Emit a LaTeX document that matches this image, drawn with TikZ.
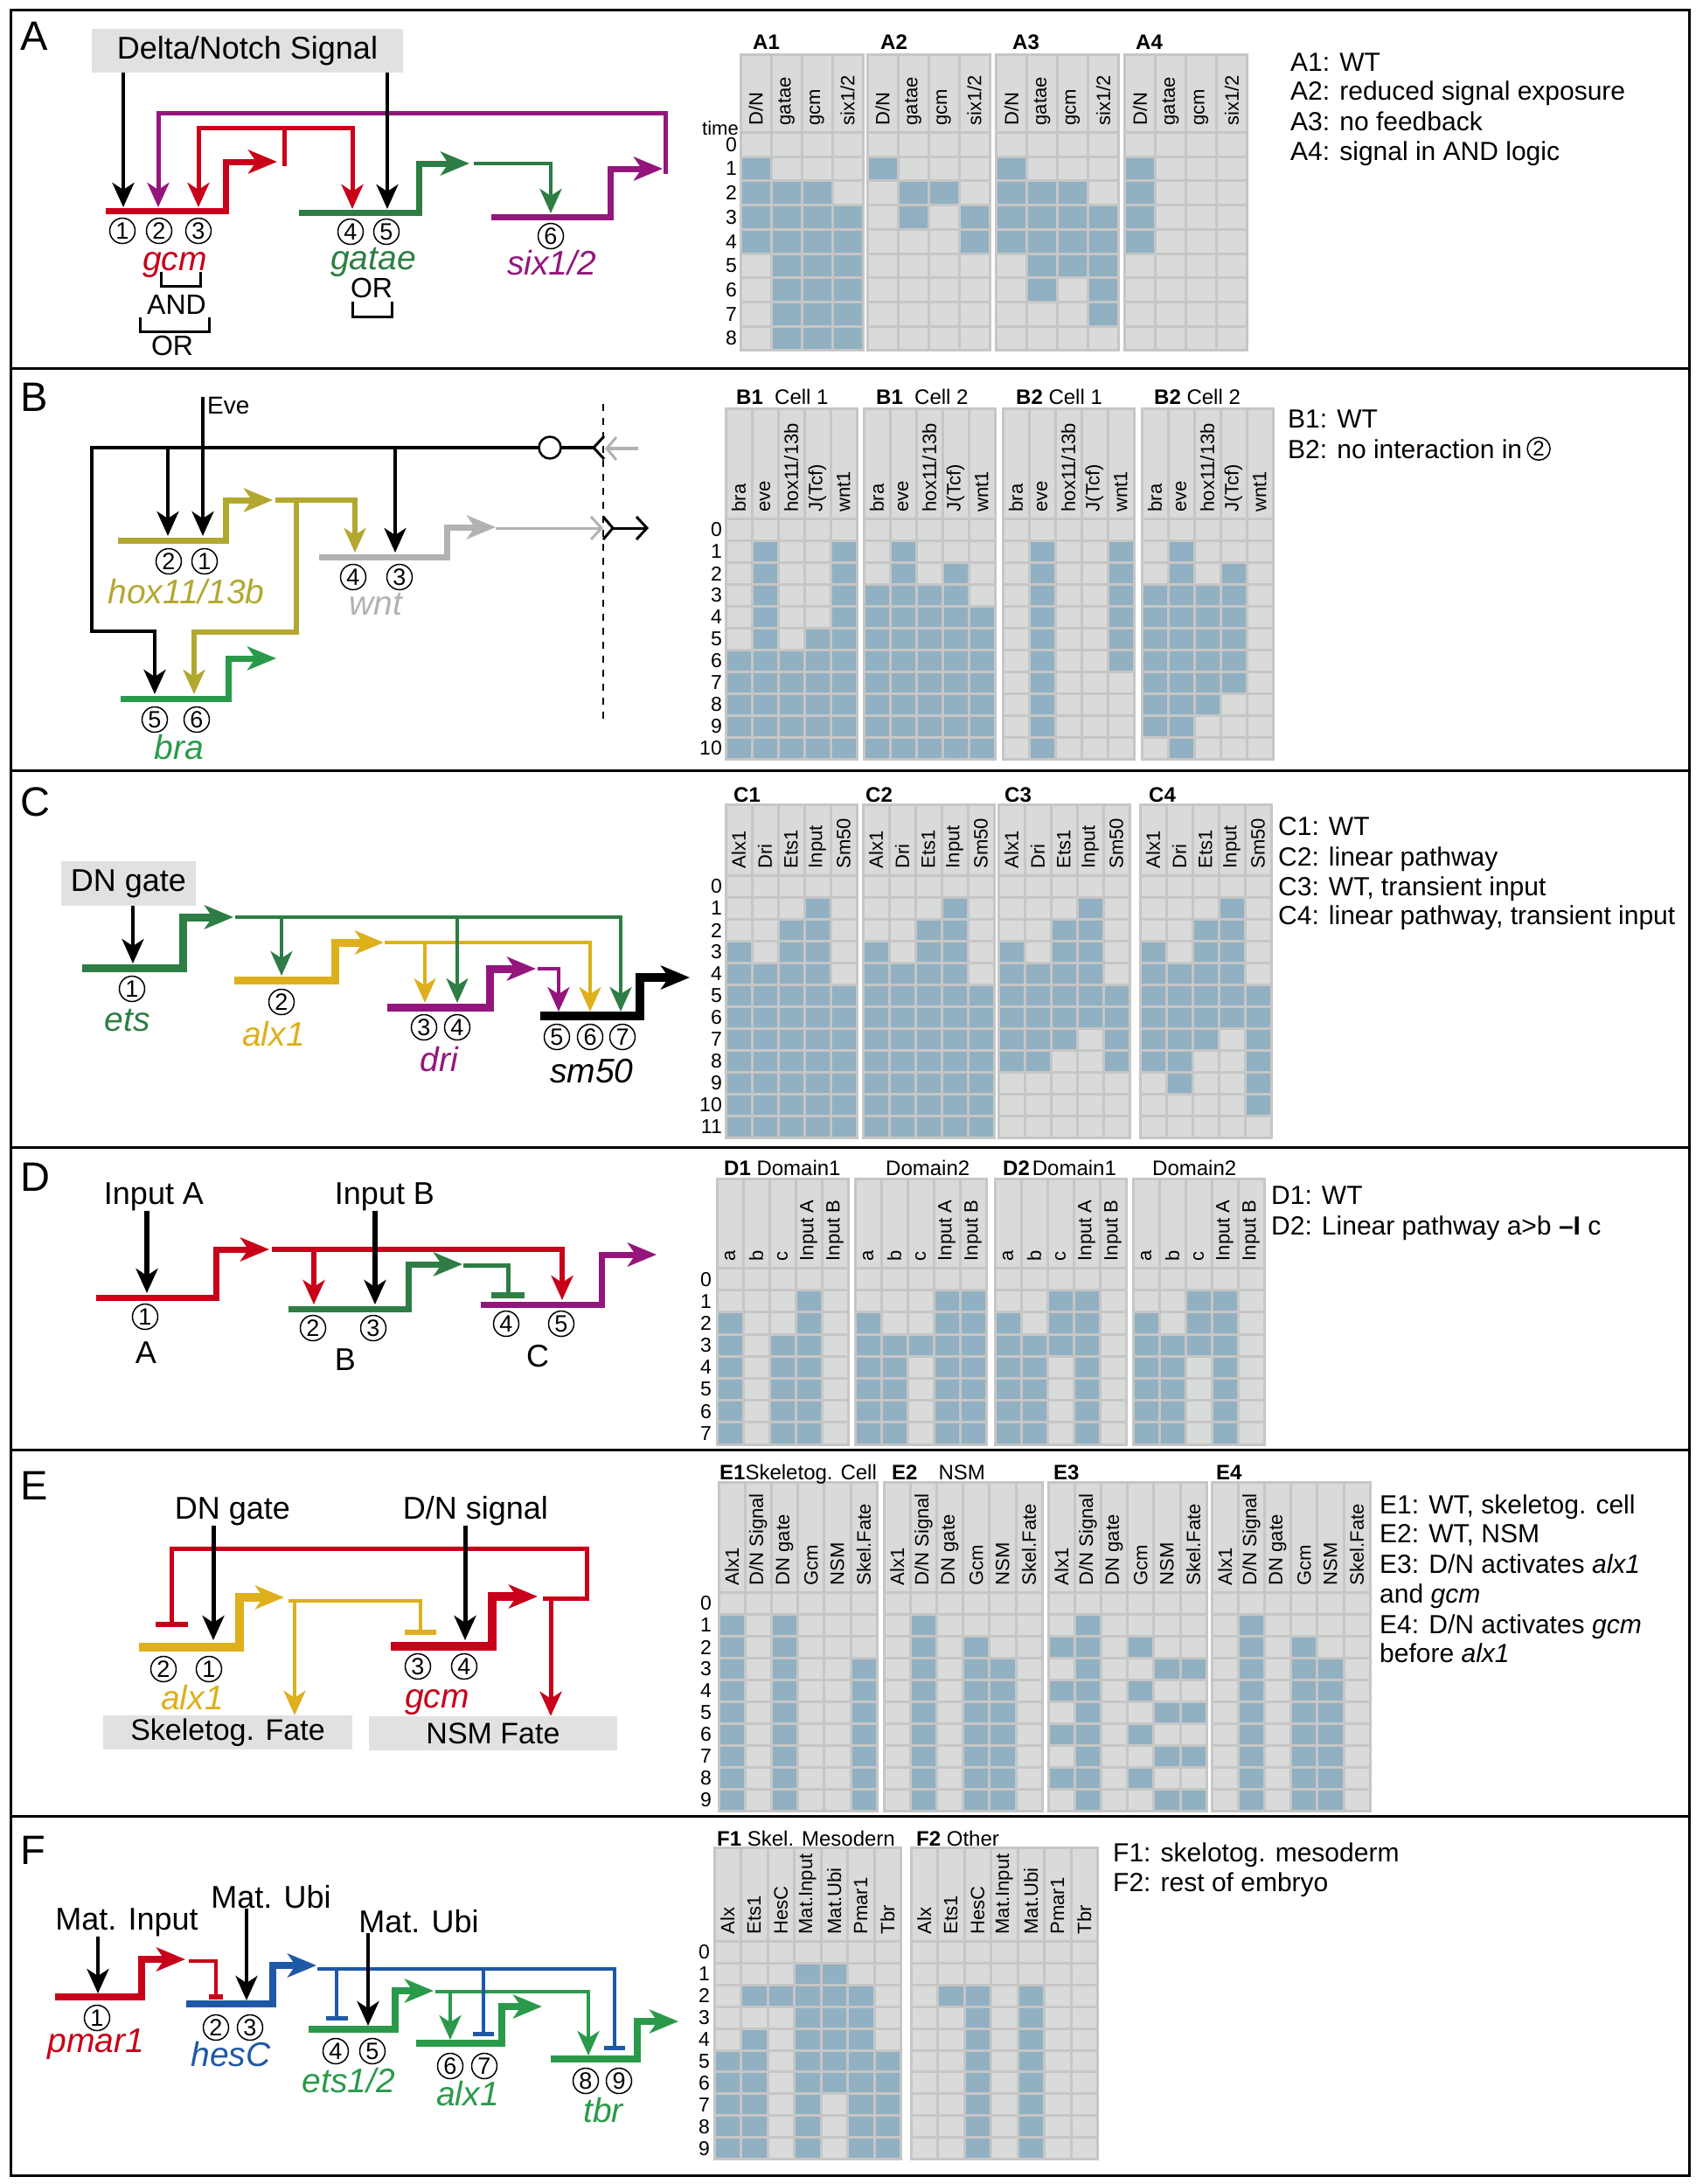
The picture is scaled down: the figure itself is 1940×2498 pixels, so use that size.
\documentclass[tikz,border=0pt]{standalone}
\usepackage{fontspec}
\setmainfont{Liberation Sans}
\usetikzlibrary{arrows.meta, calc}

\newcommand{\pxfont}[1]{\fontsize{#1}{#1}\selectfont}
\newcount\gridno

\definecolor{geneRed}{RGB}{200,0,25}
\definecolor{genePurple}{RGB}{148,22,124}
\definecolor{geneGreen}{RGB}{45,125,68}
\definecolor{geneOlive}{RGB}{178,168,48}
\definecolor{geneGray}{RGB}{178,178,178}
\definecolor{geneLime}{RGB}{42,154,74}
\definecolor{geneGold}{RGB}{221,176,28}
\definecolor{geneBlue}{RGB}{31,88,166}
\definecolor{boxgray}{RGB}{225,225,225}
\definecolor{cellgray}{RGB}{217,218,218}
\definecolor{gridgray}{RGB}{198,198,198}
\definecolor{cellblue}{RGB}{145,176,194}

\tikzstyle{promoter} = [line width=7pt, -{Stealth[length=33pt, width=27pt, inset=9pt]}]
\tikzstyle{inarrow} = [line width=4pt, -{Stealth[length=28pt, width=25pt, inset=8pt]}]
\tikzstyle{linkarrow} = [line width=5pt, -{Stealth[length=28pt, width=25pt, inset=8pt]}]
\tikzstyle{linkline} = [line width=5pt]
\tikzstyle{numcirc} = [circle, draw, line width=1.5pt, minimum size=29pt, inner sep=0pt, font=\pxfont{27}]
\tikzstyle{genelabel} = [anchor=base, inner sep=0pt, font=\pxfont{39}\itshape]
\tikzstyle{plaintext} = [anchor=base, inner sep=0pt, font=\pxfont{36}]
\tikzstyle{panelletter} = [anchor=base west, inner sep=0pt, font=\pxfont{47}]
\tikzstyle{sigbox} = [rectangle, fill=boxgray, inner sep=0pt, font=\pxfont{36}]
\tikzstyle{legendtext} = [anchor=base west, inner sep=0pt, font=\pxfont{30}]
\tikzstyle{gridtitle} = [anchor=base west, inner sep=0pt, font=\pxfont{24}]
\tikzstyle{collabel} = [rotate=90, anchor=west, inner sep=0pt, font=\pxfont{22}]
\tikzstyle{rownum} = [anchor=east, inner sep=0pt, font=\pxfont{23}]
\tikzstyle{bracketline} = [line width=3pt]
\tikzstyle{chevron} = [line width=3pt]

\newcommand{\simgrid}[9]{%
  \global\advance\gridno by 1\relax
  \fill[gridgray] (#1-1.5,#2-1.5) rectangle (#1+#7*#4+1.5,#3+#5*#6+#6+1.5);
  \foreach \lab [count=\cl from 0] in {#8}{%
    \fill[cellgray] (#1+\cl*#4+1.5,#2+1.5) rectangle (#1+\cl*#4+#4-1.5,#3-1.5);
    \node[collabel] (col\the\gridno-\cl) at (#1+\cl*#4+#4/2,#3-8) {\lab};
    \foreach \rw in {0,...,#5}
      \fill[cellgray] (#1+\cl*#4+1.5,#3+\rw*#6+1.5) rectangle ++(#4-3,#6-3);
  }%
  \foreach \rw/\cols in {#9}{%
    \foreach \cc in \cols
      \fill[cellblue] (#1+\cc*#4-#4+1.5,#3+\rw*#6+1.5) rectangle ++(#4-3,#6-3);
  }%
}

\begin{document}
\begin{tikzpicture}[x=1pt, y=-1pt]
\useasboundingbox (0,0) rectangle (1940,2498);
\draw[line width=3pt] (12.5,11) rectangle (1932,2488);
\foreach \yy in {421,881,1312,1658,2077}
  \draw[line width=3pt] (12.5,\yy) -- (1932,\yy);

\node[panelletter] (pA) at (23,57) {A};
\node[sigbox, minimum width=356pt, minimum height=50pt] (dnA) at (283,58) {Delta/Notch Signal};
\coordinate (gcm1) at (141,237);
\coordinate (gcm2) at (181,237);
\coordinate (gcm3) at (227,237);
\coordinate (gat4) at (403,239);
\coordinate (gat5) at (443,239);
\coordinate (six6) at (630,244);
\draw[promoter, geneRed] (121,241) -| (258,185) -- (317,185);
\draw[promoter, geneGreen] (342,243) -| (479,187) -- (537,187);
\draw[promoter, genePurple] (562,248) -| (698,193) -- (758,193);
\draw[linkarrow, genePurple] (761,199) |- (181,129) -- (gcm2);
\draw[linkline, geneRed] (325,190) -- (325,146);
\draw[linkarrow, geneRed] (325,146) -| (gcm3);
\draw[linkarrow, geneRed] (325,146) -| (gat4);
\draw[linkarrow, line width=4.5pt, geneGreen] (542,187) -| (six6);
\draw[inarrow] (dnA.south -| gcm1) -- (gcm1);
\draw[inarrow] (dnA.south -| gat5) -- (gat5);
\node[numcirc] (nA1) at (140,264) {1};
\node[numcirc] (nA2) at (182,264) {2};
\node[numcirc] (nA3) at (227,264) {3};
\node[numcirc] (nA4) at (401,265) {4};
\node[numcirc] (nA5) at (442,265) {5};
\node[numcirc] (nA6) at (630,270) {6};
\node[genelabel, geneRed] (gcmA) at (200,309) {gcm};
\node[genelabel, geneGreen] (gatA) at (427,308) {gatae};
\node[genelabel, genePurple] (sixA) at (631,314) {six1/2};
\draw[bracketline] (184,311) |- (229,327) -- (229,311);
\node[plaintext, font=\pxfont{32}] (andA) at (202,359) {AND};
\draw[bracketline] (160,363) |- (239,379) -- (239,363);
\node[plaintext, font=\pxfont{32}] (orA) at (197,406) {OR};
\node[plaintext, font=\pxfont{32}] (orA2) at (425,340) {OR};
\draw[bracketline] (403,345) |- (448,362) -- (448,345);

\simgrid{847}{62}{151.5}{35}{8}{27.7}{4}{D/N,gatae,gcm,six1/2}{1/{1},2/{1,2,3},3/{1,2,3,4},4/{1,2,3,4},5/{2,3,4},6/{2,3,4},7/{2,3,4},8/{2,3,4}}
\simgrid{992}{62}{151.5}{35}{8}{27.7}{4}{D/N,gatae,gcm,six1/2}{1/{1},2/{2,3},3/{2,4},4/{4}}
\simgrid{1139.5}{62}{151.5}{35}{8}{27.7}{4}{D/N,gatae,gcm,six1/2}{1/{1},2/{1,2,3},3/{1,2,3,4},4/{1,2,3,4},5/{2,3,4},6/{2,4},7/{4}}
\simgrid{1286.5}{62}{151.5}{35}{8}{27.7}{4}{D/N,gatae,gcm,six1/2}{1/{1},2/{1},3/{1},4/{1}}
\node[gridtitle] (tA1) at (861,56) {\textbf{A1}};
\node[gridtitle] (tA2) at (1007,56) {\textbf{A2}};
\node[gridtitle] (tA3) at (1158,56) {\textbf{A3}};
\node[gridtitle] (tA4) at (1299,56) {\textbf{A4}};
\node[rownum, anchor=base east, font=\pxfont{22}] (timeA) at (845,154) {time};
\foreach \rw in {0,...,8}
  \node[rownum] (rowA\rw) at (843,165.35+\rw*27.7) {\rw};
\node[legendtext] (legA1) at (1476,81) {A1: WT};
\node[legendtext] (legA2) at (1476,114) {A2: reduced signal exposure};
\node[legendtext] (legA3) at (1476,149) {A3: no feedback};
\node[legendtext] (legA4) at (1476,183) {A4: signal in AND logic};

\node[panelletter] (pB) at (23,470) {B};
\node[anchor=base west, inner sep=0pt, font=\pxfont{28}] (eve) at (237,473) {Eve};
\coordinate (hox1) at (232,613);
\coordinate (hox2) at (192,613);
\coordinate (wnt3) at (452,632);
\coordinate (wnt4) at (406,632);
\coordinate (bra5) at (177,794);
\coordinate (bra6) at (222,794);
\draw[line width=2.5pt, dash pattern=on 8pt off 8pt] (690,462) -- (690,827);
\draw[promoter, geneOlive] (135,618) -| (258,572) -- (312,572);
\draw[promoter, geneGray] (365,637) -| (511,603) -- (567,603);
\draw[promoter, geneLime] (138,799) -| (261,753) -- (316,753);
\draw[linkarrow, line width=6pt, geneOlive] (315,572) -| (wnt4);
\draw[linkarrow, line width=6pt, geneOlive] (339,572) |- (222,723) -- (bra6);
\draw[inarrow, line width=4.5pt] (679,512) -| (105,722) -| (bra5);
\draw[inarrow] (192,512) -- (hox2);
\draw[inarrow] (452,512) -- (wnt3);
\draw[inarrow] (hox1 |- eve.north) -- (hox1);
\node[circle, draw, fill=white, line width=2.5pt, minimum size=25pt, inner sep=0pt] (relay) at (629,512) {};
\draw[chevron] (691,499) -- (679,512) -- (691,525);
\draw[line width=3.5pt, geneGray] (730,513) -- (696,513);
\draw[chevron, geneGray] (705,500) -- (694,513) -- (705,526);
\draw[line width=3pt, geneGray] (567,604) -- (686,604);
\draw[chevron, geneGray] (676,591) -- (688,604) -- (676,617);
\draw[chevron] (690,591) -- (701,604) -- (690,617);
\draw[line width=3pt] (701,604) -- (739,604);
\draw[chevron] (728,591) -- (740,604) -- (728,617);
\node[numcirc] (nB2) at (193,642) {2};
\node[numcirc] (nB1) at (234,642) {1};
\node[numcirc] (nB4) at (404,660) {4};
\node[numcirc] (nB3) at (457,660) {3};
\node[numcirc] (nB5) at (177,823) {5};
\node[numcirc] (nB6) at (225,823) {6};
\node[genelabel, geneOlive] (hoxB) at (213,690) {hox11/13b};
\node[genelabel, geneGray] (wntB) at (430,703) {wnt};
\node[genelabel, geneLime] (braB) at (205,868) {bra};

\simgrid{830}{467}{593.5}{30}{10}{25}{5}{bra,eve,hox11/13b,J(Tcf),wnt1}{1/{2,5},2/{2,5},3/{2,5},4/{2,5},5/{2,4,5},6/{1,2,3,4,5},7/{1,2,3,4,5},8/{1,2,3,4,5},9/{1,2,3,4,5},10/{1,2,3,4,5}}
\simgrid{988}{467}{593.5}{30}{10}{25}{5}{bra,eve,hox11/13b,J(Tcf),wnt1}{1/{2},2/{2,4},3/{1,2,3,4},4/{1,2,3,4,5},5/{1,2,3,4,5},6/{1,2,3,4,5},7/{1,2,3,4,5},8/{1,2,3,4,5},9/{1,2,3,4,5},10/{1,2,3,4,5}}
\simgrid{1147}{467}{593.5}{30}{10}{25}{5}{bra,eve,hox11/13b,J(Tcf),wnt1}{1/{2,5},2/{2,5},3/{2,5},4/{2,5},5/{2,5},6/{2,5},7/{2},8/{2},9/{2},10/{2}}
\simgrid{1306}{467}{593.5}{30}{10}{25}{5}{bra,eve,hox11/13b,J(Tcf),wnt1}{1/{2},2/{2,4},3/{1,2,3,4},4/{1,2,3,4},5/{1,2,3,4},6/{1,2,3,4},7/{1,2,3,4},8/{1,2,3},9/{1,2},10/{2}}
\node[gridtitle] (tB1) at (842,462) {\textbf{B1}~ Cell 1};
\node[gridtitle] (tB2) at (1002,462) {\textbf{B1}~ Cell 2};
\node[gridtitle] (tB3) at (1162,462) {\textbf{B2}~Cell 1};
\node[gridtitle] (tB4) at (1320,462) {\textbf{B2}~Cell 2};
\foreach \rw in {0,...,10}
  \node[rownum] (rowB\rw) at (826,606+\rw*25) {\rw};
\node[legendtext] (legB1) at (1473,489) {B1: WT};
\node[legendtext] (legB2) at (1473,524) {B2: no interaction in};
\node[numcirc, minimum size=26pt, font=\pxfont{24}, anchor=west] (legB2n) at ($(legB2.east)+(5,0)$) {2};

\node[panelletter] (pC) at (23,933) {C};
\node[sigbox, minimum width=154pt, minimum height=51pt] (dnC) at (147,1010.5) {DN gate};
\coordinate (ets1) at (152,1102);
\coordinate (alx2) at (322,1116);
\coordinate (dri3) at (486,1147);
\coordinate (dri4) at (523,1147);
\coordinate (sm5) at (639,1157);
\coordinate (sm6) at (675,1157);
\coordinate (sm7) at (710,1157);
\draw[promoter, line width=9pt, geneGreen] (94,1107) -| (209,1049) -- (267,1049);
\draw[promoter, line width=9pt, geneGold] (268,1121) -| (383,1078) -- (439,1078);
\draw[promoter, line width=9pt, genePurple] (443,1152) -| (560,1108) -- (613,1108);
\draw[promoter, line width=10pt] (618,1162) -| (732,1118) -- (789,1118);
\draw[linkarrow, line width=4pt, geneGold] (440,1078) -| (sm6);
\draw[linkarrow, line width=4pt, geneGold] (486,1078) -- (dri3);
\draw[linkarrow, line width=4pt, geneGreen] (269,1049) -| (sm7);
\draw[linkarrow, line width=4pt, geneGreen] (322,1049) -- (alx2);
\draw[linkarrow, line width=4pt, geneGreen] (523,1049) -- (dri4);
\draw[linkarrow, line width=4pt, genePurple] (615,1108) -| (sm5);
\draw[inarrow] (dnC.south -| ets1) -- (ets1);
\node[numcirc] (nC1) at (151,1131) {1};
\node[numcirc] (nC2) at (322,1146) {2};
\node[numcirc] (nC3) at (485,1175) {3};
\node[numcirc] (nC4) at (523,1175) {4};
\node[numcirc] (nC5) at (637,1186) {5};
\node[numcirc] (nC6) at (675,1186) {6};
\node[numcirc] (nC7) at (712,1186) {7};
\node[genelabel, geneGreen] (etsC) at (146,1179) {ets};
\node[genelabel, geneGold] (alxC) at (313,1196) {alx1};
\node[genelabel, genePurple] (driC) at (502,1225) {dri};
\node[genelabel] (smC) at (677,1238) {sm50};

\simgrid{830}{920}{1001.5}{30}{11}{25}{5}{Alx1,Dri,Ets1,Input,Sm50}{1/{4},2/{3,4},3/{1,3,4},4/{1,2,3,4},5/{1,2,3,4,5},6/{1,2,3,4,5},7/{1,2,3,4,5},8/{1,2,3,4,5},9/{1,2,3,4,5},10/{1,2,3,4,5},11/{1,2,3,4,5}}
\simgrid{987}{920}{1001.5}{30}{11}{25}{5}{Alx1,Dri,Ets1,Input,Sm50}{1/{4},2/{3,4},3/{1,3,4},4/{1,2,3,4},5/{1,2,3,4,5},6/{1,2,3,4,5},7/{1,2,3,4,5},8/{1,2,3,4,5},9/{1,2,3,4,5},10/{1,2,3,4,5},11/{1,2,3,4,5}}
\simgrid{1142}{920}{1001.5}{30}{11}{25}{5}{Alx1,Dri,Ets1,Input,Sm50}{1/{4},2/{3,4},3/{1,3,4},4/{1,2,3,4},5/{1,2,3,4,5},6/{1,2,3,4,5},7/{1,2,3,5},8/{1,2,5}}
\simgrid{1304}{920}{1001.5}{30}{11}{25}{5}{Alx1,Dri,Ets1,Input,Sm50}{1/{4},2/{3,4},3/{1,3,4},4/{1,2,3,4},5/{1,2,3,4,5},6/{1,2,3,4,5},7/{1,2,3,5},8/{1,2,5},9/{2,5},10/{5}}
\node[gridtitle] (tC1) at (839,917) {\textbf{C1}};
\node[gridtitle] (tC2) at (990,917) {\textbf{C2}};
\node[gridtitle] (tC3) at (1149,917) {\textbf{C3}};
\node[gridtitle] (tC4) at (1314,917) {\textbf{C4}};
\foreach \rw in {0,...,11}
  \node[rownum] (rowC\rw) at (826,1014+\rw*25) {\rw};
\node[legendtext] (legC1) at (1462,955) {C1: WT};
\node[legendtext] (legC2) at (1462,990) {C2: linear pathway};
\node[legendtext] (legC3) at (1462,1024) {C3: WT, transient input};
\node[legendtext] (legC4) at (1462,1057) {C4: linear pathway, transient input};

\node[panelletter] (pD) at (23,1362) {D};
\node[plaintext] (inA) at (176,1377) {Input A};
\node[plaintext] (inB) at (440,1377) {Input B};
\coordinate (dA1) at (168,1479);
\coordinate (dB2) at (359,1492);
\coordinate (dB3) at (429,1492);
\coordinate (dC4) at (581,1478);
\coordinate (dC5) at (643,1487);
\draw[promoter, geneRed] (110,1484) -| (247,1429) -- (308,1429);
\draw[promoter, geneGreen] (330,1497) -| (467,1446) -- (529,1446);
\draw[promoter, genePurple] (550,1492) -| (688,1435) -- (751,1435);
\draw[linkarrow, line width=6.5pt, geneRed] (311,1429) -| (dC5);
\draw[linkarrow, line width=6.5pt, geneRed] (359,1429) -- (dB2);
\draw[linkline, geneGreen] (530,1447) -| (dC4);
\fill[geneGreen] (562,1478) rectangle (600,1485);
\draw[inarrow, line width=6pt] (inA.south -| dA1) -- (dA1);
\draw[inarrow, line width=6pt] (inB.south -| dB3) -- (dB3);
\node[numcirc] (nD1) at (166,1506) {1};
\node[numcirc] (nD2) at (358,1519) {2};
\node[numcirc] (nD3) at (427,1519) {3};
\node[numcirc] (nD4) at (579,1514) {4};
\node[numcirc] (nD5) at (642,1514) {5};
\node[plaintext] (geneDA) at (167,1559) {A};
\node[plaintext] (geneDB) at (395,1567) {B};
\node[plaintext] (geneDC) at (615,1563) {C};

\simgrid{820}{1348}{1450.5}{30}{7}{25.2}{5}{a,b,c,Input A,Input B}{1/{4},2/{1,4},3/{1,3,4},4/{1,3,4},5/{1,3,4},6/{1,3,4},7/{1,3,4}}
\simgrid{978}{1348}{1450.5}{30}{7}{25.2}{5}{a,b,c,Input A,Input B}{1/{4,5},2/{1,4,5},3/{1,2,3,4,5},4/{1,2,4,5},5/{1,2,4,5},6/{1,2,4,5},7/{1,2,4,5}}
\simgrid{1138}{1348}{1450.5}{30}{7}{25.2}{5}{a,b,c,Input A,Input B}{1/{3,4},2/{1,3,4},3/{1,2,3,4},4/{1,2,4},5/{1,2,4},6/{1,2,4},7/{1,2,4}}
\simgrid{1296}{1348}{1450.5}{30}{7}{25.2}{5}{a,b,c,Input A,Input B}{1/{3,4},2/{1,3,4},3/{1,2,3,4},4/{1,2,4},5/{1,2,4},6/{1,2,4},7/{1,2,4}}
\node[gridtitle] (tD1) at (828,1344) {\textbf{D1} Domain1};
\node[gridtitle] (tD2) at (1013,1344) {Domain2};
\node[gridtitle] (tD3) at (1147,1344) {\textbf{D2}\kern3pt Domain1};
\node[gridtitle] (tD4) at (1318,1344) {Domain2};
\foreach \rw in {0,...,7}
  \node[rownum] (rowD\rw) at (814,1463.1+\rw*25.2) {\rw};
\node[legendtext] (legD1) at (1454,1377) {D1: WT};
\node[legendtext] (legD2) at (1454,1412) {D2: Linear pathway a>b \textbf{–I} c};

\node[panelletter] (pE) at (23,1715) {E};
\node[plaintext] (dnE) at (266,1737) {DN gate};
\node[plaintext] (dnsE) at (544,1737) {D/N signal};
\node[sigbox, minimum width=285pt, minimum height=39pt, font=\pxfont{34}] (skelE) at (260.5,1981.5) {Skeletog. Fate};
\node[sigbox, minimum width=284pt, minimum height=39pt, font=\pxfont{34}] (nsmE) at (564,1982.5) {NSM Fate};
\coordinate (alx1E) at (244,1876);
\coordinate (alx2E) at (196,1855);
\coordinate (gcm3E) at (481,1864);
\coordinate (gcm4E) at (532,1876);
\coordinate (alxOut) at (337,1831);
\coordinate (gcmOut) at (630,1828);
\draw[promoter, line width=10pt, geneGold] (159,1884) -| (274,1827) -- (325,1827);
\draw[promoter, line width=10pt, geneRed] (447,1883) -| (563,1826) -- (615,1826);
\draw[linkline, line width=4pt, geneGold] (330,1831) -| (gcm3E);
\fill[geneGold] (463,1864) rectangle (499,1870);
\draw[linkarrow, line width=4.5pt, geneGold] (alxOut) -- (alxOut |- skelE.north);
\draw[linkline, geneRed] (621,1828) -| (671,1771) -| (alx2E);
\fill[geneRed] (178,1855) rectangle (215,1861);
\draw[linkarrow, geneRed] (gcmOut) -- (gcmOut |- nsmE.north);
\draw[inarrow, line width=5pt] (dnE.south -| alx1E) -- (alx1E);
\draw[inarrow, line width=5pt] (dnsE.south -| gcm4E) -- (gcm4E);
\node[numcirc] (nE2) at (187,1909) {2};
\node[numcirc] (nE1) at (239,1909) {1};
\node[numcirc] (nE3) at (478,1906) {3};
\node[numcirc] (nE4) at (531,1906) {4};
\node[genelabel, geneGold] (alxE) at (220,1955) {alx1};
\node[genelabel, geneRed] (gcmE) at (500,1953) {gcm};

\simgrid{822}{1695}{1821.5}{30.2}{9}{25}{6}{Alx1,D/N Signal,DN gate,Gcm,NSM,Skel.Fate}{1/{1,3},2/{1,3},3/{1,3,6},4/{1,3,6},5/{1,3,6},6/{1,3,6},7/{1,3,6},8/{1,3,6},9/{1,3,6}}
\simgrid{1011}{1695}{1821.5}{30.2}{9}{25}{6}{Alx1,D/N Signal,DN gate,Gcm,NSM,Skel.Fate}{1/{2},2/{2,4},3/{2,4,5},4/{2,4,5},5/{2,4,5},6/{2,4,5},7/{2,4,5},8/{2,4,5},9/{2,4,5}}
\simgrid{1199}{1695}{1821.5}{30.2}{9}{25}{6}{Alx1,D/N Signal,DN gate,Gcm,NSM,Skel.Fate}{1/{2},2/{1,2,4},3/{2,5,6},4/{1,2,4},5/{2,5,6},6/{1,2,4},7/{2,5,6},8/{1,2,4},9/{2,5,6}}
\simgrid{1386}{1695}{1821.5}{30.2}{9}{25}{6}{Alx1,D/N Signal,DN gate,Gcm,NSM,Skel.Fate}{1/{2},2/{2,4},3/{2,4,5},4/{2,4,5},5/{2,4,5},6/{2,4,5},7/{2,4,5},8/{2,4,5},9/{2,4,5}}
\node[gridtitle] (tE1) at (823,1692) {\textbf{E1}Skeletog. Cell};
\node[gridtitle] (tE2) at (1020,1692) {\textbf{E2}\hspace{24pt}NSM};
\node[gridtitle] (tE3) at (1205,1692) {\textbf{E3}};
\node[gridtitle] (tE4) at (1391,1692) {\textbf{E4}};
\foreach \rw in {0,...,9}
  \node[rownum] (rowE\rw) at (814,1834+\rw*25) {\rw};
\node[legendtext] (legE1) at (1578,1731) {E1: WT, skeletog. cell};
\node[legendtext] (legE2) at (1578,1764) {E2: WT, NSM};
\node[legendtext] (legE3) at (1578,1799) {E3: D/N activates \textit{alx1}};
\node[legendtext] (legE4) at (1578,1833) {and \textit{gcm}};
\node[legendtext] (legE5) at (1578,1868) {E4: D/N activates \textit{gcm}};
\node[legendtext] (legE6) at (1578,1901) {before \textit{alx1}};

\node[panelletter] (pF) at (23,2132) {F};
\node[plaintext] (miF) at (145,2207) {Mat. Input};
\node[plaintext] (mu1F) at (310,2182) {Mat. Ubi};
\node[plaintext] (mu2F) at (479,2210) {Mat. Ubi};
\coordinate (pm1) at (112,2280);
\coordinate (hs2) at (247,2281);
\coordinate (hs3) at (282,2288);
\coordinate (et4) at (385,2306);
\coordinate (et5) at (421,2317);
\coordinate (ax6) at (515,2333);
\coordinate (ax7) at (553,2324);
\coordinate (tb8) at (673,2351);
\coordinate (tb9) at (703,2340);
\draw[promoter, line width=8pt, geneRed] (63,2284) -| (162,2241) -- (212,2241);
\draw[promoter, line width=8pt, geneBlue] (213,2292) -| (312,2248) -- (362,2248);
\draw[promoter, line width=8pt, geneLime] (353,2321) -| (452,2277) -- (496,2277);
\draw[promoter, line width=8pt, geneLime] (476,2337) -| (574,2295) -- (620,2295);
\draw[promoter, line width=8pt, geneLime] (630,2355) -| (729,2312) -- (776,2312);
\draw[linkline, line width=4pt, geneRed] (216,2243) -| (hs2);
\fill[geneRed] (239,2281) rectangle (255,2287);
\draw[linkarrow, line width=4pt, geneLime] (498,2278) -| (tb8);
\draw[linkarrow, line width=4pt, geneLime] (515,2278) -- (ax6);
\draw[linkline, line width=4pt, geneBlue] (363,2252) -| (tb9);
\draw[linkline, line width=4pt, geneBlue] (385,2252) -- (et4);
\draw[linkline, line width=4pt, geneBlue] (553,2252) -- (ax7);
\fill[geneBlue] (373,2306) rectangle (398,2311);
\fill[geneBlue] (541,2324) rectangle (565,2329);
\fill[geneBlue] (691,2340) rectangle (715,2345);
\draw[inarrow, line width=4.5pt] (miF.south -| pm1) -- (pm1);
\draw[inarrow, line width=4.5pt] (mu1F.south -| hs3) -- (hs3);
\draw[inarrow, line width=4.5pt] (mu2F.south -| et5) -- (et5);
\node[numcirc] (nF1) at (111,2308) {1};
\node[numcirc] (nF2) at (247,2319) {2};
\node[numcirc] (nF3) at (286,2319) {3};
\node[numcirc] (nF4) at (384,2346) {4};
\node[numcirc] (nF5) at (426,2346) {5};
\node[numcirc] (nF6) at (515,2363) {6};
\node[numcirc] (nF7) at (554,2363) {7};
\node[numcirc] (nF8) at (670,2380) {8};
\node[numcirc] (nF9) at (708,2380) {9};
\node[genelabel, geneRed] (pmF) at (110,2347) {pmar1};
\node[genelabel, geneBlue] (hesF) at (264,2363) {hesC};
\node[genelabel, geneLime] (etsF) at (399,2393) {ets1/2};
\node[genelabel, geneLime] (alxF) at (535,2408) {alx1};
\node[genelabel, geneLime] (tbrF) at (690,2427) {tbr};

\simgrid{817}{2113}{2220.5}{30.5}{9}{24.9}{7}{Alx,Ets1,HesC,Mat.Input,Mat.Ubi,Pmar1,Tbr}{1/{4,5},2/{2,3,4,5,6},3/{4,5,6},4/{2,4,5,6},5/{1,2,4,5,6,7},6/{1,2,4,5,6,7},7/{1,2,4,6,7},8/{1,2,4,6,7},9/{1,2,4,6,7}}
\simgrid{1042}{2113}{2220.5}{30.5}{9}{24.9}{7}{Alx,Ets1,HesC,Mat.Input,Mat.Ubi,Pmar1,Tbr}{2/{2,3,5},3/{3,5},4/{3,5},5/{3,5},6/{3,5},7/{3,5},8/{3,5},9/{3,5}}
\node[gridtitle] (tF1) at (820,2111) {\textbf{F1} Skel. Mesodern};
\node[gridtitle] (tF2) at (1048,2111) {\textbf{F2} Other};
\foreach \rw in {0,...,9}
  \node[rownum] (rowF\rw) at (812,2233+\rw*24.9) {\rw};
\node[legendtext] (legF1) at (1273,2129) {F1: skelotog. mesoderm};
\node[legendtext] (legF2) at (1273,2163) {F2: rest of embryo};
\end{tikzpicture}
\end{document}
